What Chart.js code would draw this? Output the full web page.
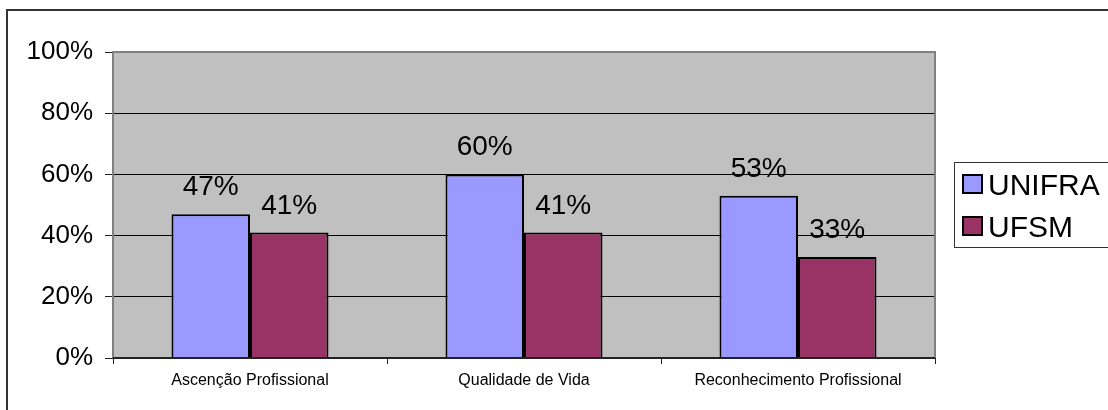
<!DOCTYPE html>
<html>
<head>
<meta charset="utf-8">
<script src="https://cdn.jsdelivr.net/npm/chart.js@4"></script>
<style>
  html, body { margin: 0; padding: 0; background: #fff; }
  #wrap { width: 1108px; height: 410px; position: relative; }
</style>
</head>
<body>
<div id="wrap"><canvas id="myChart"></canvas></div>
<script>
// data
const categories = ['Ascenção Profissional', 'Qualidade de Vida', 'Reconhecimento Profissional']
const seriesNames = ['UNIFRA', 'UFSM']
const unifraValues = [47, 60, 53]
const ufsmValues = [41, 41, 33]
const yTicks = [0, 20, 40, 60, 80, 100]

const colors = ['#9999FF', '#993366']
const font = 'Arial, "Liberation Sans", sans-serif'

// gray plot area + outer frame
const backdrop = {
    id: 'backdrop',
    beforeDraw(chart) {
        const { ctx, chartArea: a } = chart
        ctx.save()
        ctx.fillStyle = '#C0C0C0'
        ctx.fillRect(a.left, a.top, a.right - a.left, a.bottom - a.top)
        // outer frame (cut off at right and bottom in the original)
        ctx.strokeStyle = '#333'
        ctx.lineWidth = 2
        ctx.strokeRect(7, 10, 1120, 420)
        ctx.restore()
    },
    afterDatasetsDraw(chart) {
        const { ctx, chartArea: a } = chart
        ctx.save()
        ctx.strokeStyle = '#808080'
        ctx.lineWidth = 2
        ctx.beginPath()
        ctx.moveTo(a.left, a.bottom)
        ctx.lineTo(a.left, a.top)
        ctx.lineTo(a.right, a.top)
        ctx.lineTo(a.right, a.bottom)
        ctx.stroke()
        ctx.strokeStyle = '#222'
        ctx.beginPath()
        ctx.moveTo(a.left, a.bottom)
        ctx.lineTo(a.right, a.bottom)
        ctx.stroke()
        ctx.restore()
    }
}

// value labels above bars
const valueLabels = {
    id: 'valueLabels',
    afterDatasetsDraw(chart) {
        const { ctx } = chart
        ctx.save()
        ctx.font = '28px ' + font
        ctx.fillStyle = '#000'
        ctx.textAlign = 'center'
        ctx.textBaseline = 'alphabetic'
        chart.data.datasets.forEach((ds, i) => {
            chart.getDatasetMeta(i).data.forEach((bar, j) => {
                ctx.fillText(ds.data[j] + '%', bar.x, bar.y - 19)
            })
        })
        ctx.restore()
    }
}

// legend box on the right
const boxLegend = {
    id: 'boxLegend',
    afterDraw(chart) {
        const { ctx } = chart
        ctx.save()
        ctx.strokeStyle = '#333'
        ctx.lineWidth = 1
        ctx.strokeRect(954.5, 162.5, 200, 85)
        ctx.font = '30px ' + font
        ctx.textBaseline = 'alphabetic'
        chart.data.datasets.forEach((ds, i) => {
            const y = 175 + i * 42
            ctx.fillStyle = ds.backgroundColor
            ctx.fillRect(963, y, 19, 18)
            ctx.strokeStyle = '#000'
            ctx.lineWidth = 2
            ctx.strokeRect(963, y, 19, 18)
            ctx.fillStyle = '#000'
            ctx.fillText(ds.label, 988, y + 20)
        })
        ctx.restore()
    }
}

new Chart(document.getElementById('myChart'), {
    type: 'bar',
    data: {
        labels: categories,
        datasets: [
            { label: seriesNames[0], data: unifraValues, backgroundColor: colors[0] },
            { label: seriesNames[1], data: ufsmValues, backgroundColor: colors[1] }
        ]
    },
    options: {
        responsive: true,
        maintainAspectRatio: false,
        animation: false,
        events: [],
        categoryPercentage: 0.573,
        barPercentage: 1,
        elements: {
            bar: {
                borderColor: '#000',
                borderWidth: 2,
                borderSkipped: 'bottom'
            }
        },
        layout: {
            padding: { top: 52, right: 173, bottom: 10, left: 10 }
        },
        scales: {
            y: {
                min: 0,
                max: 100,
                afterFit: (s) => { s.width = 103 },
                afterBuildTicks: (s) => { s.ticks = yTicks.map(v => ({ value: v })) },
                border: { display: false },
                grid: {
                    color: '#000',
                    lineWidth: 1,
                    tickLength: 8,
                    tickColor: '#222'
                },
                ticks: {
                    padding: 12,
                    color: '#000',
                    font: { family: font, size: 26 },
                    callback: (v) => v + '%'
                }
            },
            x: {
                afterFit: (s) => { s.height = 42 },
                border: { display: false },
                grid: {
                    offset: true,
                    drawOnChartArea: false,
                    drawTicks: true,
                    tickLength: 6,
                    color: '#222'
                },
                ticks: {
                    padding: 7,
                    color: '#000',
                    font: { family: font, size: 16 }
                }
            }
        },
        plugins: {
            legend: { display: false },
            tooltip: { enabled: false }
        }
    },
    plugins: [backdrop, valueLabels, boxLegend]
})
</script>
</body>
</html>
